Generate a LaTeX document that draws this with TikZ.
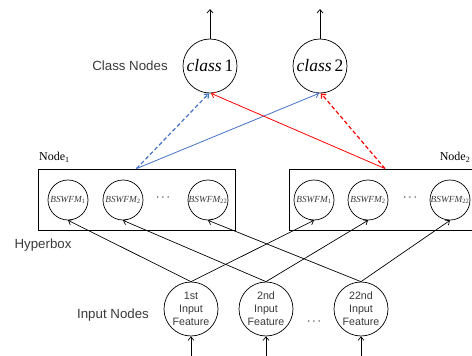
\documentclass[tikz,border=0pt]{standalone}
\usepackage{fontspec}
\setmainfont{Liberation Serif}
\newfontfamily\lsans{Liberation Sans}
\usetikzlibrary{arrows.meta}
\definecolor{lblue}{HTML}{4472C4}
\definecolor{tgray}{HTML}{3A3A3A}
\begin{document}
\begin{tikzpicture}[x=1pt,y=-1pt,
  circ/.style={circle,draw,line width=0.7pt,inner sep=0pt},
  arr/.style={-{Straight Barb[length=3.5pt,width=6pt]}, line width=0.7pt},
  lbl/.style={font=\lsans\fontsize{13.3}{15}\selectfont, text=tgray},
  bsw/.style={circ,minimum size=40pt,text=tgray,font=\fontsize{9.3}{10}\selectfont\itshape},
  cls/.style={circ,minimum size=54pt,font=\fontsize{17.5}{20}\selectfont},
  inp/.style={circ,minimum size=54pt,align=center,text=tgray,font=\lsans\fontsize{10.7}{13}\selectfont},
  hbox/.style={draw,line width=0.8pt,minimum height=61pt,inner sep=0pt},
  dots/.style={font=\fontsize{12}{14}\selectfont}]
\clip (0,0) rectangle (472,356);
% class nodes
\node[cls] (c1) at (210,66) {\textit{class}\,1};
\node[cls] (c2) at (320,66) {\textit{class}\,2};
\coordinate (o1) at (210,9);
\coordinate (o2) at (320,9);
\draw[arr] (c1.north) -- (o1);
\draw[arr] (c2.north) -- (o2);
\node[lbl] (clab) at (130,66) {Class Nodes};
% hyperboxes
\node[hbox,minimum width=197pt] (hb1) at (136.5,199.5) {};
\node[hbox,minimum width=192pt] (hb2) at (385,199.5) {};
\node[anchor=west,font=\fontsize{12}{14}\selectfont,inner sep=0pt] (n1lab) at (39,157) {Node\textsubscript{1}};
\node[anchor=east,font=\fontsize{12}{14}\selectfont,inner sep=0pt] (n2lab) at (470.5,157) {Node\textsubscript{2}};
\node[lbl] (hlab) at (43,245) {Hyperbox};
% BSWFM circles
\node[bsw] (l1) at (68,200) {BSWFM\textsubscript{\upshape 1}};
\node[bsw] (l2) at (123,200) {BSWFM\textsubscript{\upshape 2}};
\node[dots] (ld) at (163,198) {$\cdots$};
\node[bsw] (l3) at (208,200) {BSWFM\textsubscript{\upshape 22}};
\node[bsw] (r1) at (314,200) {BSWFM\textsubscript{\upshape 1}};
\node[bsw] (r2) at (368,200) {BSWFM\textsubscript{\upshape 2}};
\node[dots] (rd) at (410,198) {$\cdots$};
\node[bsw] (r3) at (450,200) {BSWFM\textsubscript{\upshape 22}};
% input nodes
\node[inp] (i1) at (191,309) {1st\\Input\\Feature};
\node[inp] (i2) at (266,309) {2nd\\Input\\Feature};
\node[dots] (id) at (314,322) {$\cdots$};
\node[inp] (i3) at (361,309) {22nd\\Input\\Feature};
\node[lbl] (ilab) at (113,315) {Input Nodes};
\coordinate (b1) at (191,357);
\coordinate (b2) at (266,357);
\coordinate (b3) at (361,357);
\draw[arr] (b1) -- (i1.south);
\draw[arr] (b2) -- (i2.south);
\draw[arr] (b3) -- (i3.south);
% input to BSWFM
\draw[arr] (i1.north) -- (l1.south);
\draw[arr] (i1.north) -- (r1.south);
\draw[arr] (i2.north) -- (l2.south);
\draw[arr] (i2.north) -- (r2.south);
\draw[arr] (i3.north) -- (l3.south);
\draw[arr] (i3.north) -- (r3.south);
% hyperbox to class
\draw[arr,lblue,dash pattern=on 4pt off 2.5pt,line width=1.2pt] (hb1.north) -- ([xshift=-1pt]c1.south);
\draw[arr,lblue,line width=0.8pt] (hb1.north) -- ([xshift=-1pt]c2.south);
\draw[arr,red,line width=0.8pt] (hb2.north) -- ([xshift=1pt]c1.south);
\draw[arr,red,dash pattern=on 4pt off 2.5pt,line width=1.2pt] (hb2.north) -- ([xshift=1pt]c2.south);
\end{tikzpicture}
\end{document}
